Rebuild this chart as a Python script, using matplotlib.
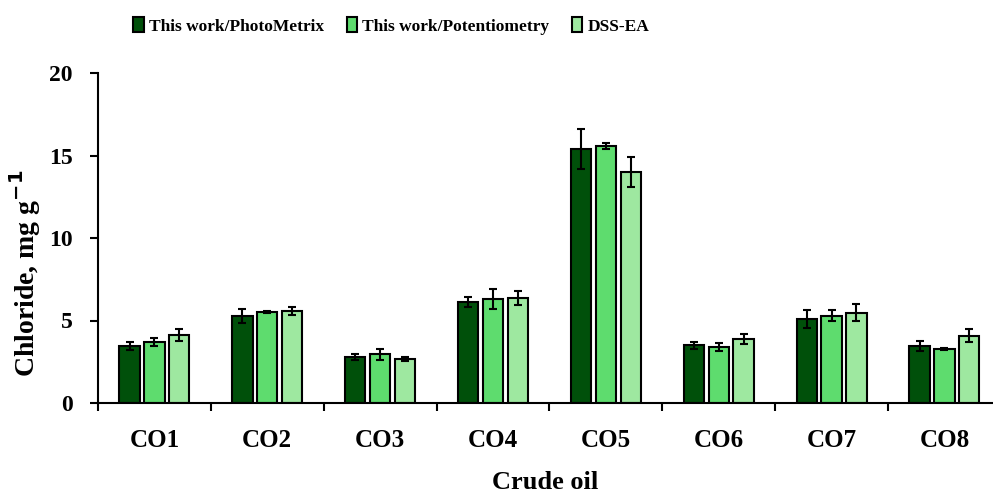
import matplotlib
matplotlib.use("Agg")
import matplotlib.pyplot as plt
import numpy as np

categories = ["CO1", "CO2", "CO3", "CO4", "CO5", "CO6", "CO7", "CO8"]
series_names = ["This work/PhotoMetrix", "This work/Potentiometry", "DSS-EA"]
photometrix = [3.45, 5.27, 2.79, 6.12, 15.39, 3.50, 5.09, 3.44]
photometrix_err = [0.25, 0.45, 0.20, 0.30, 1.20, 0.22, 0.52, 0.31]
potentiometry = [3.70, 5.52, 2.95, 6.28, 15.56, 3.39, 5.29, 3.27]
potentiometry_err = [0.26, 0.08, 0.34, 0.60, 0.19, 0.22, 0.35, 0.05]
dssea = [4.14, 5.58, 2.65, 6.38, 14.02, 3.86, 5.47, 4.08]
dssea_err = [0.36, 0.24, 0.13, 0.43, 0.90, 0.31, 0.52, 0.40]
colors = ["#00500a", "#5edc6e", "#9ee8a0"]

plt.rcParams['font.family'] = ['Liberation Serif', 'DejaVu Serif']
plt.rcParams['font.weight'] = 'bold'

fig = plt.figure(figsize=(9.93, 4.92), dpi=100)
ax = fig.add_axes([98/993, 1 - 403/492, (993 - 98)/993, (403 - 73)/492])

x = np.arange(len(categories))
offsets = [-0.22, 0.0, 0.22]
width = 0.18
data = [(photometrix, photometrix_err), (potentiometry, potentiometry_err), (dssea, dssea_err)]
for i, ((vals, errs), name, c) in enumerate(zip(data, series_names, colors)):
    ax.bar(x + offsets[i], vals, width, yerr=errs, color=c, edgecolor="black",
           linewidth=1.5, label=name,
           error_kw=dict(ecolor="black", elinewidth=1.5, capsize=3.2, capthick=1.5))

ax.set_xlim(-0.5, 7.43)
ax.set_ylim(0, 20)
ax.set_yticks([0, 5, 10, 15, 20])
ax.set_xticks(x)
ax.set_xticklabels(categories)
ax.set_xticks(np.arange(-0.5, 7.5, 1.0), minor=True)
ax.tick_params(axis='x', which='major', length=0, pad=19, labelsize=18)
ax.tick_params(axis='x', which='minor', length=6, width=1.5, direction='out')
ax.tick_params(axis='y', length=6, width=1.5, direction='out', labelsize=17, pad=12)
for s in ["top", "right"]:
    ax.spines[s].set_visible(False)
for s in ["left", "bottom"]:
    ax.spines[s].set_linewidth(1.5)

ax.set_ylabel("Chloride, mg g$^{\\mathbf{-1}}$", fontsize=20, fontweight='bold')
ax.yaxis.set_label_coords(-0.062, 0.394)
ax.set_xlabel("Crude oil", fontsize=19, fontweight='bold')
ax.xaxis.set_label_coords(0.5, -0.205)

leg = fig.legend(loc='center', bbox_to_anchor=(0.394, 1 - 26/492), ncol=3, frameon=False,
                 fontsize=12.5, handlelength=0.6, handleheight=0.9, handletextpad=0.3,
                 columnspacing=1.3)

fig.savefig("out.png", dpi=100)
